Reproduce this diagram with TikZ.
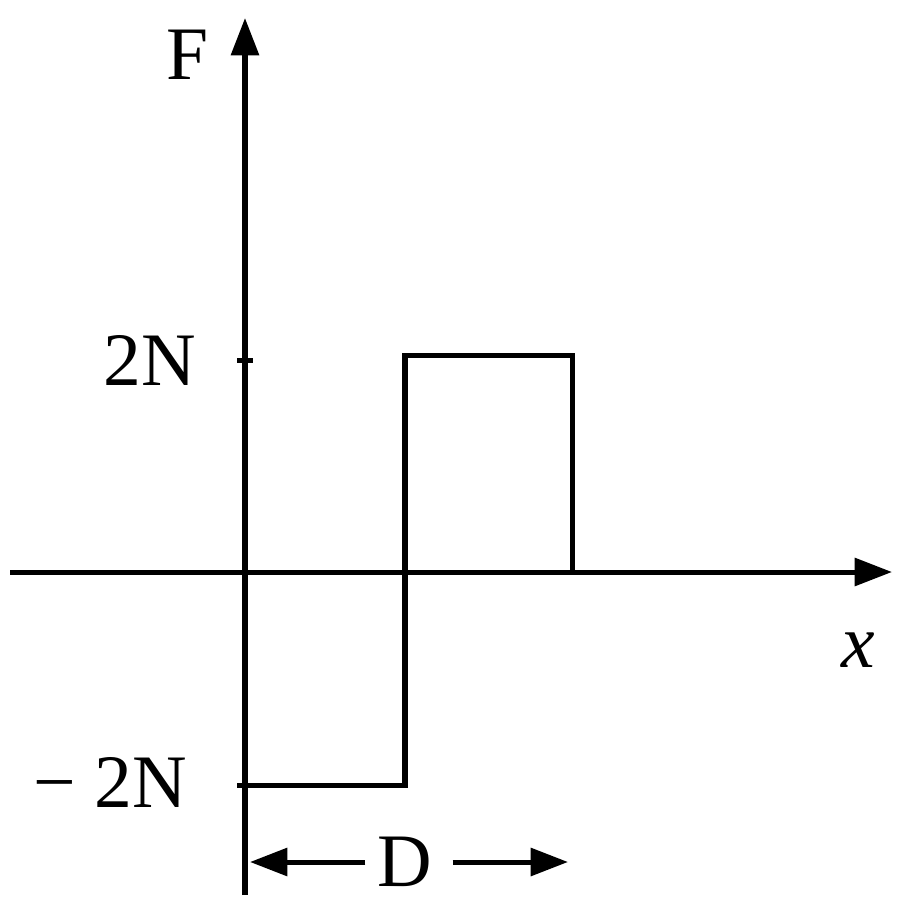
\documentclass[tikz,border=0pt]{standalone}
\usepackage{fontspec}
\setmainfont{Liberation Serif}
\usetikzlibrary{arrows.meta}
\begin{document}
\begin{tikzpicture}[x=0.02cm,y=-0.02cm,
  ax/.style={line width=5pt*0.57,-{Triangle[length=0.75cm,width=0.55cm]}},
  ln/.style={line width=5pt*0.57},
  lab/.style={font=\fontsize{43}{43}\selectfont,inner sep=0pt}]
\useasboundingbox (0,0) rectangle (900,917);
\coordinate (o) at (245,572);
\coordinate (ytop) at (245,18);
\coordinate (ybot) at (245,895);
\coordinate (xl) at (10,572);
\coordinate (xr) at (892,572);
\draw[ax] (ybot) -- (ytop);
\draw[ax] (xl) -- (xr);
\coordinate (a1) at (245,785);
\coordinate (a2) at (405,785);
\coordinate (a3) at (405,355);
\coordinate (a4) at (572,355);
\coordinate (a5) at (572,572);
\draw[ln,line join=miter] (o) -- (a1) -- (a2) -- (a3) -- (a4) -- (a5);
\draw[ln] (237,360) -- (253,360);
\draw[ln] (237,785) -- (253,785);
\node[lab] (F) at (188,55) {F};
\node[lab] (p2) at (150,360) {2N};
\node[lab] (m2) at (110,782) {\textminus\ 2N};
\node[lab] (x) at (858,650) {\itshape x};
\node[lab] (D) at (405,862) {D};
\coordinate (dl) at (250,862);
\coordinate (dr) at (568,862);
\draw[ln,-{Triangle[length=0.75cm,width=0.55cm]}] (D.west)++(-12,0) -- (dl);
\draw[ln,-{Triangle[length=0.75cm,width=0.55cm]}] (D.east)++(20,0) -- (dr);
\end{tikzpicture}
\end{document}
